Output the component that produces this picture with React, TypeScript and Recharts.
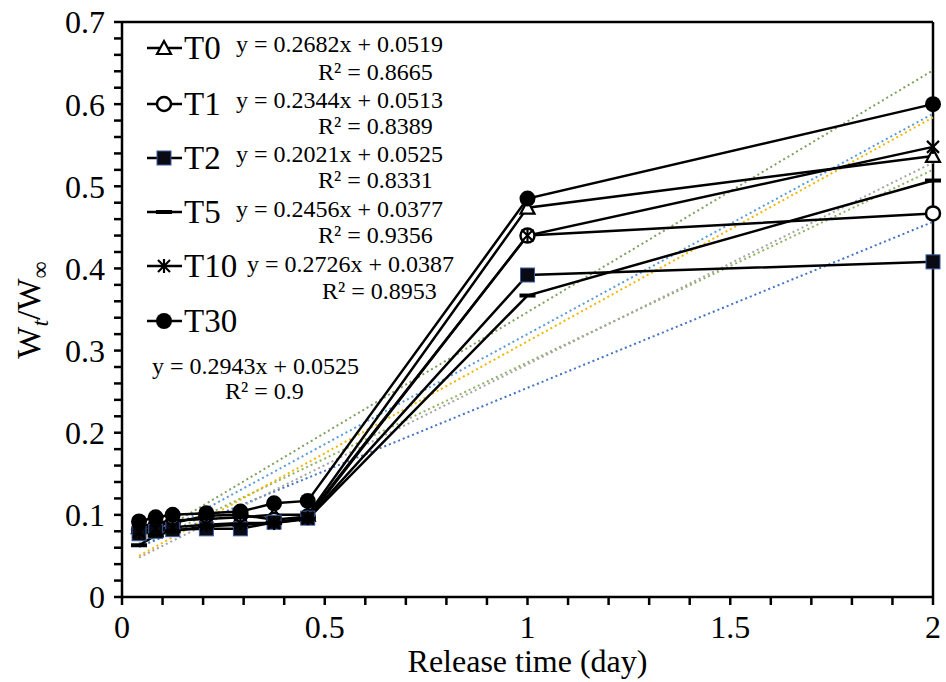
import React from 'react';
import { LineChart, Line, XAxis, YAxis, ReferenceLine } from 'recharts';

// release times in days (1, 2, 3, 5, 7, 9, 11, 24, 48 h)
const days = [0.042, 0.083, 0.125, 0.208, 0.292, 0.375, 0.458, 1, 2];

const seriesNames = ['T0', 'T1', 'T2', 'T5', 'T10', 'T30'];
const t0 = [0.085, 0.09, 0.093, 0.095, 0.097, 0.1, 0.1, 0.474, 0.537];
const t1 = [0.082, 0.087, 0.09, 0.099, 0.1, 0.094, 0.098, 0.44, 0.467];
const t2 = [0.077, 0.08, 0.082, 0.083, 0.083, 0.091, 0.096, 0.392, 0.408];
const t5 = [0.063, 0.075, 0.08, 0.086, 0.088, 0.09, 0.095, 0.367, 0.507];
const t10 = [0.079, 0.083, 0.085, 0.088, 0.09, 0.09, 0.096, 0.44, 0.548];
const t30 = [0.092, 0.097, 0.1, 0.102, 0.104, 0.114, 0.117, 0.485, 0.6];

// linear trendlines as printed on the chart
const slopes = [0.2682, 0.2344, 0.2021, 0.2456, 0.2726, 0.2943];
const intercepts = [0.0519, 0.0513, 0.0525, 0.0377, 0.0387, 0.0525];
const r2Values = ['0.8665', '0.8389', '0.8331', '0.9356', '0.8953', '0.9'];
const trendColors = ['#5B9BD5', '#8DB463', '#4472C4', '#A5A5A5', '#F2B705', '#7FA05E'];

const xTicks = [0, 0.1, 0.2, 0.3, 0.4, 0.5, 0.6, 0.7, 0.8, 0.9, 1, 1.1, 1.2, 1.3, 1.4, 1.5, 1.6, 1.7, 1.8, 1.9, 2];
const yTicks = [0, 0.02, 0.04, 0.06, 0.08, 0.1, 0.12, 0.14, 0.16, 0.18, 0.2, 0.22, 0.24, 0.26, 0.28, 0.3,
  0.32, 0.34, 0.36, 0.38, 0.4, 0.42, 0.44, 0.46, 0.48, 0.5, 0.52, 0.54, 0.56, 0.58, 0.6, 0.62, 0.64, 0.66, 0.68, 0.7];

const allSeries = [t0, t1, t2, t5, t10, t30];
const data = days.map((d, i) => {
  const row: any = { x: d };
  seriesNames.forEach((n, k) => { row[n] = allSeries[k][i]; });
  return row;
});

const trendData = slopes.map((s, k) => [
  { x: days[0], y: s * days[0] + intercepts[k] },
  { x: days[days.length - 1], y: s * days[days.length - 1] + intercepts[k] },
]);

const FONT = '"Liberation Serif", "Times New Roman", serif';

const Marker = ({ kind, cx, cy }: { kind: string; cx: number; cy: number }) => {
  if (cx == null || cy == null) return null;
  switch (kind) {
    case 'T0':
      return <polygon points={`${cx},${cy - 7} ${cx - 7},${cy + 6} ${cx + 7},${cy + 6}`} fill="#fff" stroke="#000" strokeWidth={2.2} />;
    case 'T1':
      return <circle cx={cx} cy={cy} r={7} fill="#fff" stroke="#000" strokeWidth={2.5} />;
    case 'T2':
      return <rect x={cx - 7} y={cy - 7} width={14} height={14} fill="#0a0a14" stroke="#3A5BA0" strokeWidth={1} />;
    case 'T5':
      return <rect x={cx - 8} y={cy - 2} width={16} height={4} fill="#000" />;
    case 'T10':
      return (
        <g stroke="#000" strokeWidth={2.2}>
          <line x1={cx - 6} y1={cy - 6} x2={cx + 6} y2={cy + 6} />
          <line x1={cx - 6} y1={cy + 6} x2={cx + 6} y2={cy - 6} />
          <line x1={cx} y1={cy - 7} x2={cx} y2={cy + 7} />
        </g>
      );
    default:
      return <circle cx={cx} cy={cy} r={8} fill="#000" />;
  }
};

const dotFor = (kind: string) => (props: any) => (
  <Marker key={`${kind}-${props.index}`} kind={kind} cx={props.cx} cy={props.cy} />
);

const fmtX = (v: number) => (Math.abs(v * 2 - Math.round(v * 2)) < 1e-6 ? String(v) : '');
const fmtY = (v: number) => (Math.abs(v * 10 - Math.round(v * 10)) < 1e-6 ? (v === 0 ? '0' : v.toFixed(1)) : '');

// legend rows and label placement (pixels)
const legendY = [48, 104, 158, 212, 266, 321];
const eqPos = [
  { x: 236, y: 52, rx: 318, ry: 80 },
  { x: 236, y: 108, rx: 318, ry: 134 },
  { x: 236, y: 162, rx: 318, ry: 188 },
  { x: 236, y: 217, rx: 318, ry: 243 },
  { x: 247, y: 272, rx: 322, ry: 299 },
  { x: 152, y: 374, rx: 225, ry: 399 },
];

const YLabel = () => (
  <text transform="translate(40, 310) rotate(-90)" textAnchor="middle" fontSize={34} fontFamily={FONT} fill="#000">
    W<tspan dy={8} fontSize={24} fontStyle="italic">t</tspan>
    <tspan dy={-8}>/W</tspan>
    <tspan dy={8} fontSize={24}>∞</tspan>
  </text>
);

const App: React.FC = () => {
  return (
    <div style={{ position: 'absolute', left: 0, top: 0, width: 946, height: 682, background: '#fff' }}>
      <LineChart width={946} height={682} data={data} margin={{ top: 22, right: 13, left: 0, bottom: 0 }}>
        <XAxis
          dataKey="x"
          type="number"
          domain={[0, 2]}
          ticks={xTicks}
          tickFormatter={fmtX}
          interval={0}
          height={85}
          tickSize={8}
          tickMargin={10}
          axisLine={{ stroke: '#000', strokeWidth: 2.5 }}
          tickLine={{ stroke: '#000', strokeWidth: 2.5 }}
          tick={{ fill: '#000', fontSize: 32, fontFamily: FONT }}
          label={{ value: 'Release time (day)', position: 'insideBottom', offset: 10, fill: '#000', fontSize: 32, fontFamily: FONT }}
        />
        <YAxis
          type="number"
          domain={[0, 0.7]}
          ticks={yTicks}
          tickFormatter={fmtY}
          interval={0}
          width={122}
          tickSize={8}
          tickMargin={9}
          axisLine={{ stroke: '#000', strokeWidth: 2.5 }}
          tickLine={{ stroke: '#000', strokeWidth: 2.5 }}
          tick={{ fill: '#000', fontSize: 32, fontFamily: FONT }}
          label={{ content: () => <YLabel /> }}
        />
        <ReferenceLine y={0.7} stroke="#000" strokeWidth={2.5} />
        <ReferenceLine x={2} stroke="#000" strokeWidth={2.5} />
        {trendData.map((td, k) => (
          <Line
            key={`trend-${k}`}
            data={td}
            dataKey="y"
            stroke={trendColors[k]}
            strokeWidth={2}
            strokeDasharray="2 3"
            dot={false}
            activeDot={false}
            isAnimationActive={false}
            legendType="none"
          />
        ))}
        {seriesNames.map((n) => (
          <Line
            key={n}
            dataKey={n}
            type="linear"
            stroke="#000"
            strokeWidth={2.5}
            dot={dotFor(n)}
            activeDot={false}
            isAnimationActive={false}
          />
        ))}
      </LineChart>
      <svg width={946} height={682} style={{ position: 'absolute', left: 0, top: 0, pointerEvents: 'none' }}>
        {seriesNames.map((n, k) => (
          <g key={n}>
            <line x1={147} x2={182} y1={legendY[k]} y2={legendY[k]} stroke="#000" strokeWidth={2.5} />
            <Marker kind={n} cx={164} cy={legendY[k]} />
            <text x={184} y={legendY[k] + 11} fontSize={33} fontFamily={FONT} fill="#000">{n}</text>
            <text x={eqPos[k].x} y={eqPos[k].y} fontSize={24} fontFamily={FONT} fill="#000">
              {`y = ${slopes[k]}x + ${intercepts[k]}`}
            </text>
            <text x={eqPos[k].rx} y={eqPos[k].ry} fontSize={24} fontFamily={FONT} fill="#000">
              {`R² = ${r2Values[k]}`}
            </text>
          </g>
        ))}
      </svg>
    </div>
  );
};

export default App;
